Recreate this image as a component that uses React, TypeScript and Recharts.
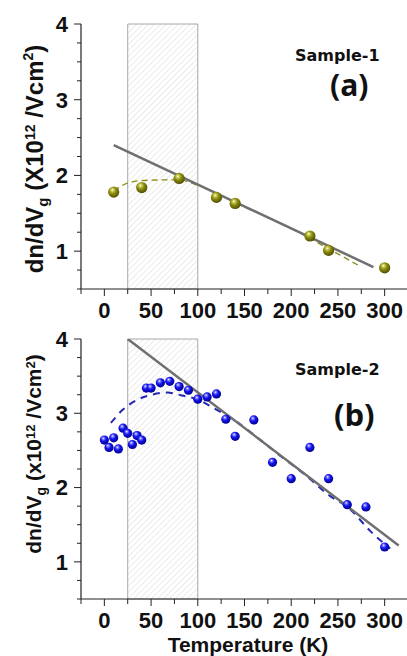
import React from "react";
import {
  ComposedChart,
  Scatter,
  Line,
  XAxis,
  YAxis,
  ReferenceArea,
} from "recharts";

// axis ticks
const tempTicks = [-25, 0, 25, 50, 75, 100, 125, 150, 175, 200, 225, 250, 275, 300, 325];
const tempLabels = [0, 50, 100, 150, 200, 250, 300];
const valueTicks = [0.5, 0.75, 1, 1.25, 1.5, 1.75, 2, 2.25, 2.5, 2.75, 3, 3.25, 3.5, 3.75, 4];
const valueLabels = [1, 2, 3, 4];

// Sample-1 (a)
const s1Temp = [10, 40, 80, 120, 140, 220, 240, 300];
const s1Val = [1.78, 1.84, 1.96, 1.71, 1.63, 1.2, 1.01, 0.78];
const fit1Temp = [10, 288];
const fit1Val = [2.4, 0.79];
const guide1Temp = [10, 23, 38, 59, 80, 98, 120, 140, 170, 200, 227, 252, 275];
const guide1Val = [1.8, 1.89, 1.93, 1.94, 1.94, 1.88, 1.76, 1.64, 1.47, 1.3, 1.12, 0.95, 0.79];

// Sample-2 (b)
const s2Temp = [0, 5, 10, 15, 20, 25, 30, 35, 40, 45, 50, 60, 70, 80, 90, 100, 110, 120, 130, 140, 160, 180, 200, 220, 240, 260, 280, 300];
const s2Val = [2.64, 2.54, 2.67, 2.52, 2.8, 2.73, 2.58, 2.7, 2.64, 3.34, 3.34, 3.41, 3.43, 3.36, 3.31, 3.19, 3.22, 3.26, 2.92, 2.69, 2.91, 2.34, 2.12, 2.54, 2.12, 1.77, 1.74, 1.2];
const fit2Temp = [25, 315];
const fit2Val = [4.0, 1.22];
const guide2Temp = [7, 19, 35, 51, 67, 83, 101, 117, 140, 160, 187, 215, 240, 262, 285, 306];
const guide2Val = [2.87, 3.04, 3.18, 3.25, 3.28, 3.24, 3.18, 3.07, 2.9, 2.71, 2.44, 2.17, 1.9, 1.72, 1.41, 1.18];

const zip = (xs: number[], ys: number[]) => xs.map((x, i) => ({ x, y: ys[i] }));

const AXIS = "#222";
const TICK_FONT = "'Liberation Sans', Arial, sans-serif";

function BottomTick(props: any) {
  const { x, y, payload } = props;
  const v = payload.value;
  const major = v % 50 === 0;
  return (
    <g>
      <line x1={x} x2={x} y1={y} y2={y + (major ? 7 : 5)} stroke={AXIS} strokeWidth={1} />
      {tempLabels.includes(v) && (
        <text x={x} y={y + 13} dy="0.71em" textAnchor="middle" fontFamily={TICK_FONT} fontWeight="bold" fontSize={22} fill="#111">
          {v}
        </text>
      )}
    </g>
  );
}

function TopTick(props: any) {
  const { x, y, payload } = props;
  const major = payload.value % 50 === 0;
  return <line x1={x} x2={x} y1={y} y2={y + (major ? 5 : 3)} stroke={AXIS} strokeWidth={1} />;
}

function LeftTick(props: any) {
  const { x, y, payload } = props;
  const v = payload.value;
  const major = valueLabels.includes(v);
  return (
    <g>
      <line x1={x - (major ? 7 : 4)} x2={x} y1={y} y2={y} stroke={AXIS} strokeWidth={1} />
      {major && (
        <text x={x - 13} y={y} dy="0.36em" textAnchor="end" fontFamily={TICK_FONT} fontWeight="bold" fontSize={22} fill="#111">
          {v}
        </text>
      )}
    </g>
  );
}

function RightTick(props: any) {
  const { x, y, payload } = props;
  const major = valueLabels.includes(payload.value);
  return <line x1={x - (major ? 5 : 3)} x2={x} y1={y} y2={y} stroke={AXIS} strokeWidth={1} />;
}

function Ball({ cx, cy, r, grad }: any) {
  if (cx == null || cy == null) return null;
  return <circle cx={cx} cy={cy} r={r} fill={`url(#${grad})`} />;
}

interface PanelProps {
  id: string;
  height: number;
  top: number;
  axisHeight: number;
  points: { x: number; y: number }[];
  fit: { x: number; y: number }[];
  guide: { x: number; y: number }[];
  ballColors: string[];
  ballR: number;
  guideColor: string;
  guideWidth: number;
  guideDash: string;
}

function Panel(p: PanelProps) {
  return (
    <ComposedChart width={420} height={p.height} margin={{ top: p.top, right: 12, bottom: 0, left: 0 }}>
      <defs>
        <pattern id={`hatch-${p.id}`} patternUnits="userSpaceOnUse" width={4.2} height={4.2} patternTransform="rotate(45)">
          <rect width={4.2} height={4.2} fill="#ffffff" />
          <line x1={0} y1={0} x2={0} y2={4.2} stroke="#cdcdcd" strokeWidth={0.8} />
        </pattern>
        <radialGradient id={`ball-${p.id}`} cx="0.42" cy="0.38" r="0.62" fx="0.38" fy="0.3">
          <stop offset="0%" stopColor="#ffffff" />
          <stop offset="16%" stopColor={p.ballColors[0]} />
          <stop offset="48%" stopColor={p.ballColors[1]} />
          <stop offset="100%" stopColor={p.ballColors[2]} />
        </radialGradient>
      </defs>
      <XAxis
        type="number"
        dataKey="x"
        domain={[-25, 325]}
        ticks={tempTicks}
        interval={0}
        allowDataOverflow
        height={p.axisHeight}
        tickSize={0}
        tickMargin={0}
        tickLine={false}
        tick={BottomTick}
        axisLine={{ stroke: AXIS, strokeWidth: 1.2 }}
      />
      <XAxis
        xAxisId="top"
        orientation="top"
        type="number"
        domain={[-25, 325]}
        ticks={tempTicks}
        interval={0}
        allowDataOverflow
        height={0}
        tickSize={0}
        tickMargin={0}
        tickLine={false}
        tick={TopTick}
        axisLine={{ stroke: AXIS, strokeWidth: 1.2 }}
      />
      <YAxis
        type="number"
        domain={[0.5, 4]}
        ticks={valueTicks}
        interval={0}
        allowDataOverflow
        width={81}
        tickSize={0}
        tickMargin={0}
        tickLine={false}
        tick={LeftTick}
        axisLine={{ stroke: AXIS, strokeWidth: 1.2 }}
      />
      <YAxis
        yAxisId="right"
        orientation="right"
        type="number"
        domain={[0.5, 4]}
        ticks={valueTicks}
        interval={0}
        allowDataOverflow
        width={0}
        tickSize={0}
        tickMargin={0}
        tickLine={false}
        tick={RightTick}
        axisLine={{ stroke: AXIS, strokeWidth: 1.2 }}
      />
      <ReferenceArea x1={25} x2={100} y1={0.5} y2={4} fill={`url(#hatch-${p.id})`} fillOpacity={1} stroke="#a8a8a8" strokeWidth={1} />
      <Line data={p.guide} dataKey="y" type="monotone" stroke={p.guideColor} strokeWidth={p.guideWidth} strokeDasharray={p.guideDash} dot={false} activeDot={false} isAnimationActive={false} />
      <Line data={p.fit} dataKey="y" type="linear" stroke="#6f6f6f" strokeWidth={2.5} dot={false} activeDot={false} isAnimationActive={false} />
      <Scatter
        data={p.points}
        dataKey="y"
        isAnimationActive={false}
        shape={(s: any) => <Ball cx={s.cx} cy={s.cy} r={p.ballR} grad={`ball-${p.id}`} />}
      />
    </ComposedChart>
  );
}

const labelFont = "'Liberation Sans', Arial, sans-serif";

export default function App() {
  return (
    <div style={{ position: "absolute", left: 0, top: 0, width: 407, height: 656, overflow: "hidden", background: "#fff" }}>
      <div style={{ position: "absolute", left: 0, top: 0 }}>
        <Panel
          id="a"
          height={330}
          top={24}
          axisHeight={41}
          points={zip(s1Temp, s1Val)}
          fit={zip(fit1Temp, fit1Val)}
          guide={zip(guide1Temp, guide1Val)}
          ballColors={["#d6d66a", "#8f8f10", "#4f4f05"]}
          ballR={5.6}
          guideColor="#8a8a14"
          guideWidth={1.3}
          guideDash="6 4"
        />
      </div>
      <div style={{ position: "absolute", left: 0, top: 310 }}>
        <Panel
          id="b"
          height={346}
          top={29}
          axisHeight={57}
          points={zip(s2Temp, s2Val)}
          fit={zip(fit2Temp, fit2Val)}
          guide={zip(guide2Temp, guide2Val)}
          ballColors={["#8c8cff", "#1414f0", "#00008c"]}
          ballR={4.6}
          guideColor="#2626b8"
          guideWidth={2}
          guideDash="7 6"
        />
      </div>
      <svg width={407} height={656} style={{ position: "absolute", left: 0, top: 0, pointerEvents: "none" }}>
        <text x={295} y={61} fontFamily="'DejaVu Sans', Verdana, sans-serif" fontWeight="bold" fontSize={16} fill="#111">Sample-1</text>
        <text x={330} y={96} fontFamily="'Open Sans', sans-serif" fontWeight="bold" fontSize={30} fill="#111">(a)</text>
        <text x={295} y={375} fontFamily="'DejaVu Sans', Verdana, sans-serif" fontWeight="bold" fontSize={16} fill="#111">Sample-2</text>
        <text x={334} y={426} fontFamily="'Open Sans', sans-serif" fontWeight="bold" fontSize={31} fill="#111">(b)</text>

        <text transform="translate(43,159) rotate(-90)" textAnchor="middle" fontFamily={labelFont} fontWeight="bold" fontSize={24} fill="#111">
          dn/dV<tspan fontSize={15} dy={5}>g</tspan>
          <tspan dy={-5}> (X10</tspan>
          <tspan fontSize={14} dy={-8}>12</tspan>
          <tspan dy={8}> /Vcm</tspan>
          <tspan fontSize={14} dy={-10}>2</tspan>
          <tspan dy={10}>)</tspan>
        </text>
        <text transform="translate(41,454) rotate(-90)" textAnchor="middle" fontFamily={labelFont} fontWeight="bold" fontSize={21} fill="#111">
          dn/dV<tspan fontSize={14} dy={5}>g</tspan>
          <tspan dy={-5}> (x10</tspan>
          <tspan fontSize={13} dy={-6}>12</tspan>
          <tspan dy={6}> /Vcm</tspan>
          <tspan fontSize={13} dy={-6}>2</tspan>
          <tspan dy={6}>)</tspan>
        </text>
        <text x={248} y={652} textAnchor="middle" fontFamily={labelFont} fontWeight="bold" fontSize={21} fill="#111">Temperature (K)</text>
      </svg>
    </div>
  );
}
